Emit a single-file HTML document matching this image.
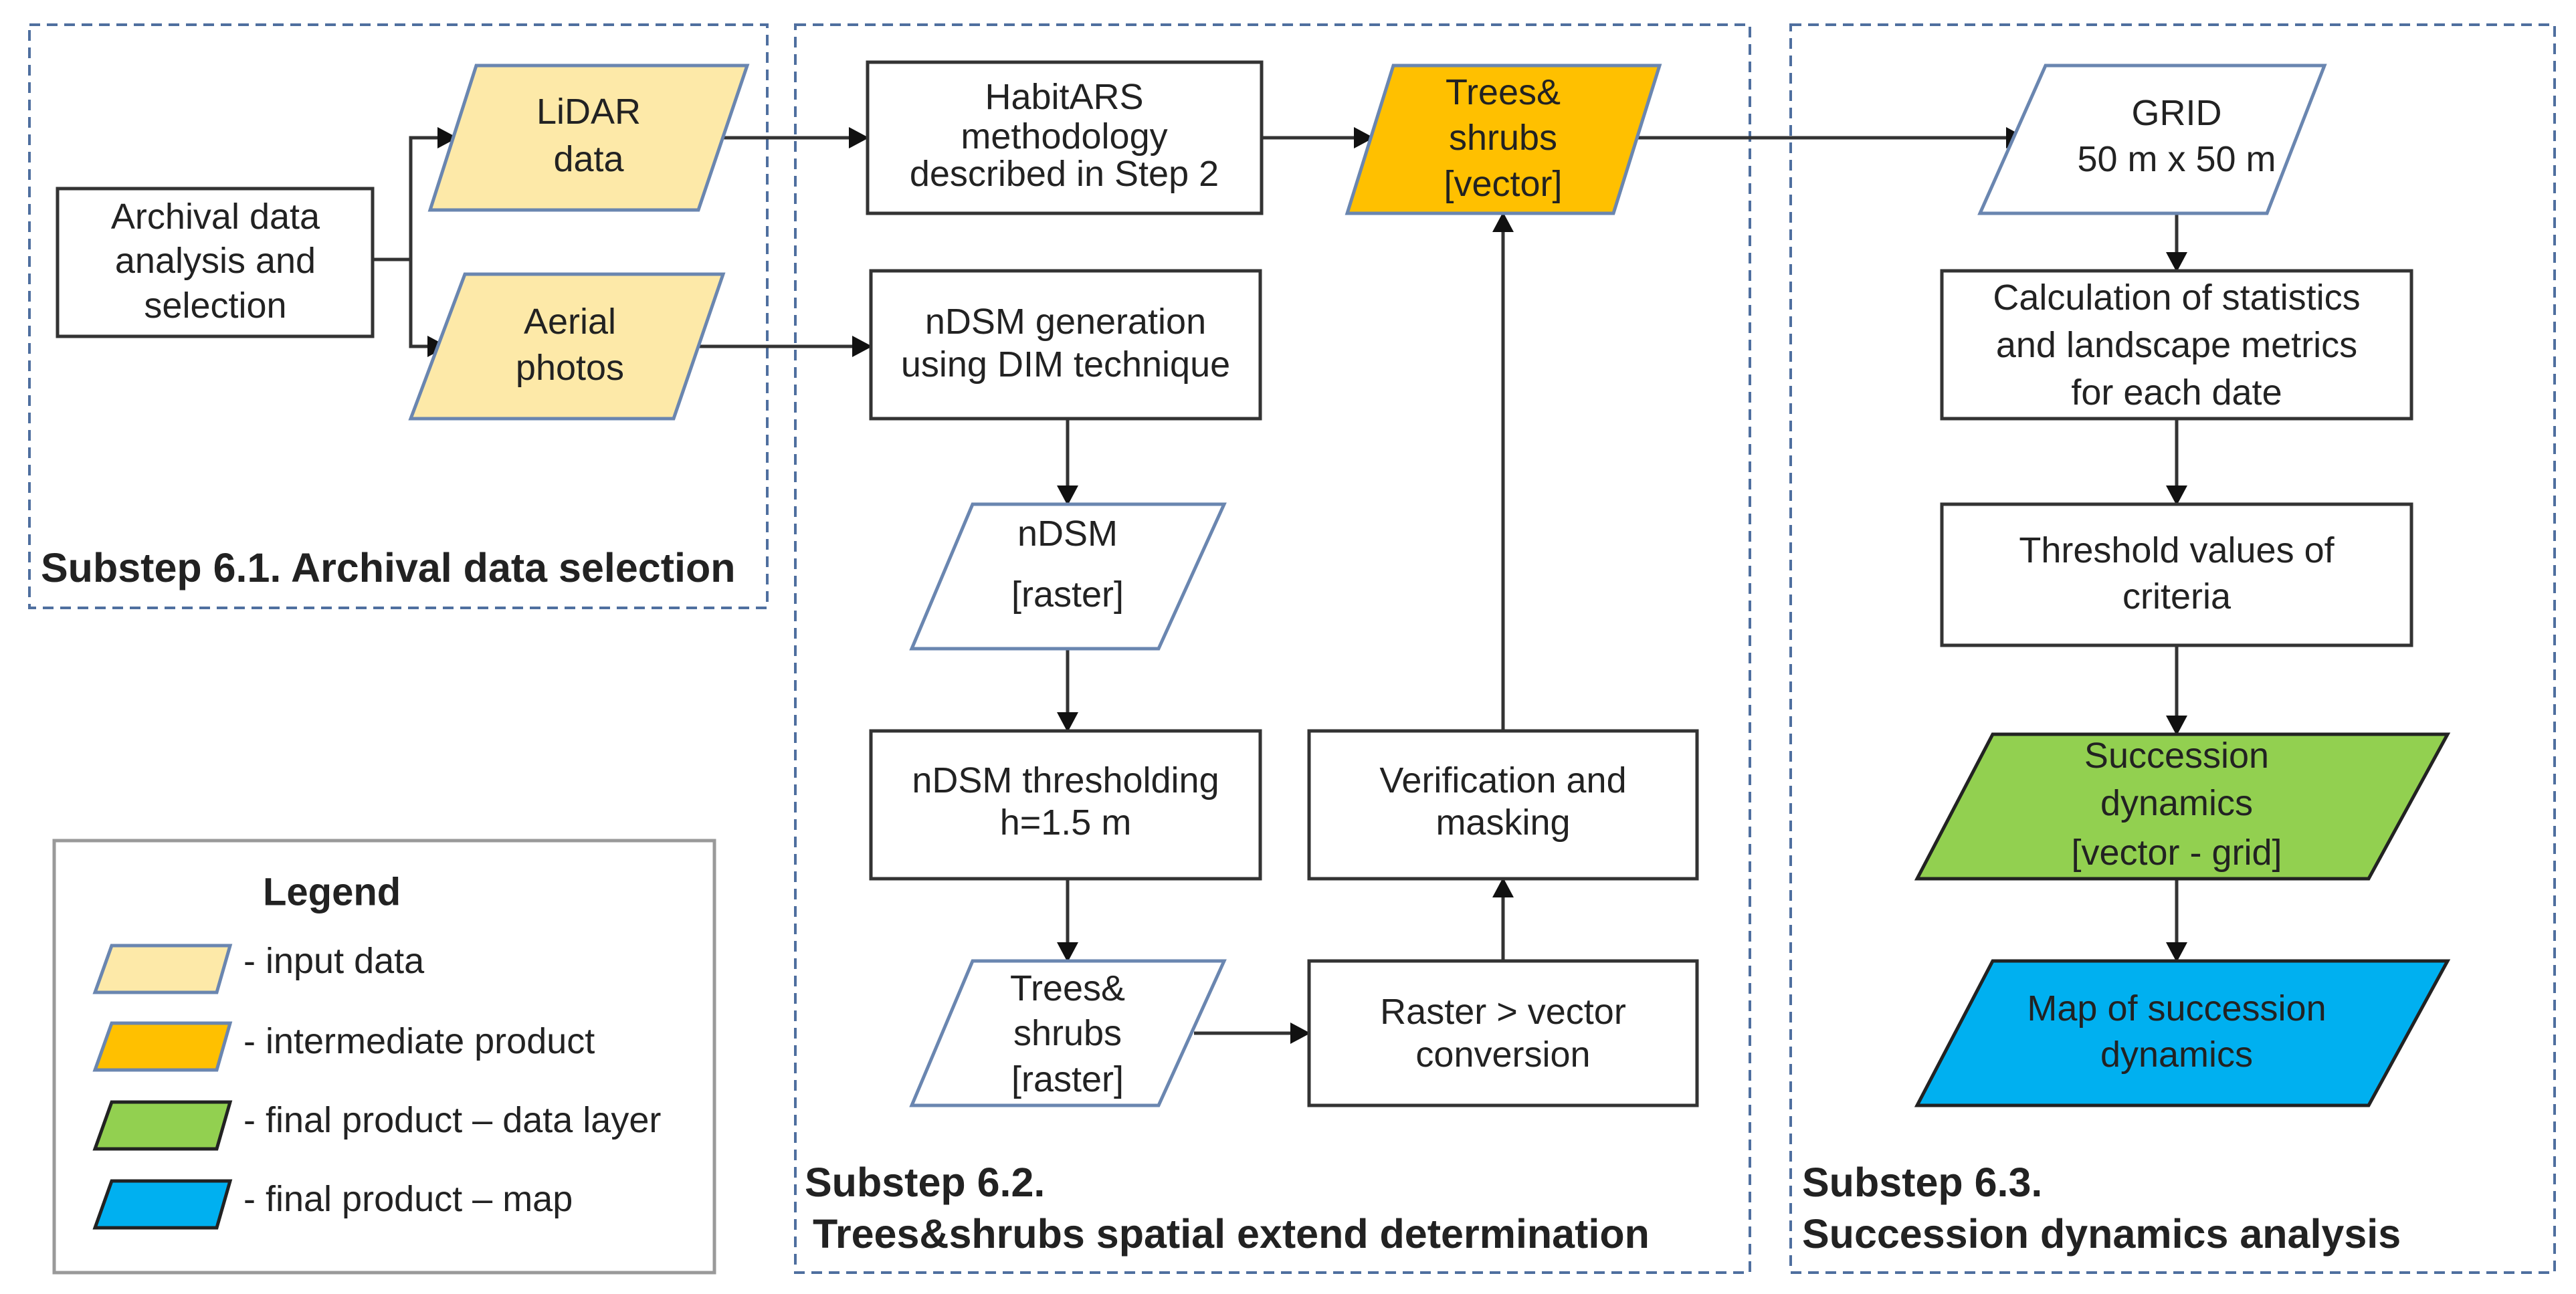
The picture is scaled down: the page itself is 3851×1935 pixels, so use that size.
<!DOCTYPE html>
<html><head><meta charset="utf-8"><style>
html,body{margin:0;padding:0;background:#fff;}
svg{display:block;}
text{font-family:"Liberation Sans",sans-serif;fill:#222;}
</style></head><body>
<svg width="3851" height="1935" viewBox="0 0 3851 1935" xmlns="http://www.w3.org/2000/svg">
<!-- frames -->
<g fill="none" stroke="#4f6f9f" stroke-width="4" stroke-dasharray="16,10">
<rect x="44" y="37" width="1103" height="872"/>
<rect x="1189" y="37" width="1427" height="1866"/>
<rect x="2677" y="37" width="1142" height="1866"/>
</g>
<rect x="81" y="1257" width="987" height="646" fill="none" stroke="#999" stroke-width="5"/>

<!-- connectors -->
<g stroke="#333" stroke-width="5" fill="none">
<polyline points="557,388 614,388"/>
<polyline points="660,206 614,206 614,518 645,518"/>
<line x1="1073" y1="206" x2="1275" y2="206"/>
<line x1="1007" y1="518" x2="1280" y2="518"/>
<line x1="1886" y1="206" x2="2030" y2="206"/>
<line x1="2440" y1="206" x2="3005" y2="206"/>
<line x1="1596" y1="626" x2="1596" y2="732"/>
<line x1="1596" y1="970" x2="1596" y2="1071"/>
<line x1="1596" y1="1314" x2="1596" y2="1415"/>
<line x1="1785" y1="1545" x2="1935" y2="1545"/>
<line x1="2247" y1="1437" x2="2247" y2="1336"/>
<line x1="2247" y1="1093" x2="2247" y2="341"/>
<line x1="3254" y1="319" x2="3254" y2="383"/>
<line x1="3254" y1="626" x2="3254" y2="732"/>
<line x1="3254" y1="965" x2="3254" y2="1076"/>
<line x1="3254" y1="1314" x2="3254" y2="1415"/>
</g>
<g fill="#111">
<polygon points="684,206 654,190 654,222"/>
<polygon points="669,518 639,502 639,534"/>
<polygon points="1299,206 1269,190 1269,222"/>
<polygon points="1304,518 1274,502 1274,534"/>
<polygon points="2054,206 2024,190 2024,222"/>
<polygon points="3029,206 2999,190 2999,222"/>
<polygon points="1596,756 1580,726 1612,726"/>
<polygon points="1596,1095 1580,1065 1612,1065"/>
<polygon points="1596,1439 1580,1409 1612,1409"/>
<polygon points="1959,1545 1929,1529 1929,1561"/>
<polygon points="2247,1312 2231,1342 2263,1342"/>
<polygon points="2247,317 2231,347 2263,347"/>
<polygon points="3254,407 3238,377 3270,377"/>
<polygon points="3254,756 3238,726 3270,726"/>
<polygon points="3254,1100 3238,1070 3270,1070"/>
<polygon points="3254,1439 3238,1409 3270,1409"/>
</g>

<!-- rect nodes -->
<g fill="#fff" stroke="#333" stroke-width="5">
<rect x="86" y="282" width="471" height="221"/>
<rect x="1297" y="93" width="589" height="226"/>
<rect x="1302" y="405" width="582" height="221"/>
<rect x="1302" y="1093" width="582" height="221"/>
<rect x="1957" y="1093" width="580" height="221"/>
<rect x="1957" y="1437" width="580" height="216"/>
<rect x="2903" y="405" width="702" height="221"/>
<rect x="2903" y="754" width="702" height="211"/>
</g>
<!-- parallelograms -->
<g stroke="#6a86b0" stroke-width="5">
<polygon points="712,98 1117,98 1044,314 643,314" fill="#fde9a8"/>
<polygon points="695,410 1081,410 1007,626 614,626" fill="#fde9a8"/>
<polygon points="2083,98 2481,98 2412,319 2014,319" fill="#ffc000"/>
<polygon points="3058,98 3475,98 3389,319 2960,319" fill="#fff"/>
<polygon points="1454,754 1830,754 1732,970 1363,970" fill="#fff"/>
<polygon points="1454,1437 1830,1437 1732,1653 1363,1653" fill="#fff"/>
<polygon points="167,1414 344,1414 324,1484 142,1484" fill="#fde9a8"/>
<polygon points="167,1530 344,1530 324,1600 142,1600" fill="#ffc000"/>
</g>
<g stroke="#222" stroke-width="5">
<polygon points="2979,1098 3659,1098 3541,1314 2866,1314" fill="#92d050"/>
<polygon points="2979,1437 3659,1437 3541,1653 2866,1653" fill="#00b0f0"/>
<polygon points="167,1648 344,1648 324,1718 142,1718" fill="#92d050"/>
<polygon points="167,1766 344,1766 324,1836 142,1836" fill="#00b0f0"/>
</g>

<!-- text -->
<g font-size="54" text-anchor="middle" dominant-baseline="central">
<text x="322" y="324">Archival data</text><text x="322" y="390">analysis and</text><text x="322" y="457">selection</text>
<text x="880" y="167">LiDAR</text><text x="880" y="238">data</text>
<text x="852" y="481">Aerial</text><text x="852" y="550">photos</text>
<text x="1591" y="145">HabitARS</text><text x="1591" y="204">methodology</text><text x="1591" y="260">described in Step 2</text>
<text x="2247" y="138">Trees&amp;</text><text x="2247" y="206">shrubs</text><text x="2247" y="275">[vector]</text>
<text x="3254" y="169">GRID</text><text x="3254" y="238">50 m x 50 m</text>
<text x="1593" y="481">nDSM generation</text><text x="1593" y="545">using DIM technique</text>
<text x="1596" y="798">nDSM</text><text x="1596" y="889">[raster]</text>
<text x="1593" y="1167">nDSM thresholding</text><text x="1593" y="1230">h=1.5 m</text>
<text x="1596" y="1478">Trees&amp;</text><text x="1596" y="1545">shrubs</text><text x="1596" y="1614">[raster]</text>
<text x="2247" y="1513">Raster &gt; vector</text><text x="2247" y="1577">conversion</text>
<text x="2247" y="1167">Verification and</text><text x="2247" y="1230">masking</text>
<text x="3254" y="445">Calculation of statistics</text><text x="3254" y="516">and landscape metrics</text><text x="3254" y="587">for each date</text>
<text x="3254" y="823">Threshold values of</text><text x="3254" y="892">criteria</text>
<text x="3254" y="1130">Succession</text><text x="3254" y="1201">dynamics</text><text x="3254" y="1275">[vector - grid]</text>
<text x="3254" y="1508">Map of succession</text><text x="3254" y="1577">dynamics</text>
</g>
<g font-size="54" dominant-baseline="central">
<text x="364" y="1437">- input data</text>
<text x="364" y="1557">- intermediate product</text>
<text x="364" y="1675">- final product – data layer</text>
<text x="364" y="1793">- final product – map</text>
</g>
<g font-size="61" font-weight="bold" dominant-baseline="central">
<text x="393" y="1334" font-size="58">Legend</text>
<text x="61" y="849">Substep 6.1. Archival data selection</text>
<text x="1203" y="1768">Substep 6.2.</text>
<text x="1215" y="1845">Trees&amp;shrubs spatial extend determination</text>
<text x="2694" y="1768">Substep 6.3.</text>
<text x="2694" y="1845">Succession dynamics analysis</text>
</g>
</svg>
</body></html>
